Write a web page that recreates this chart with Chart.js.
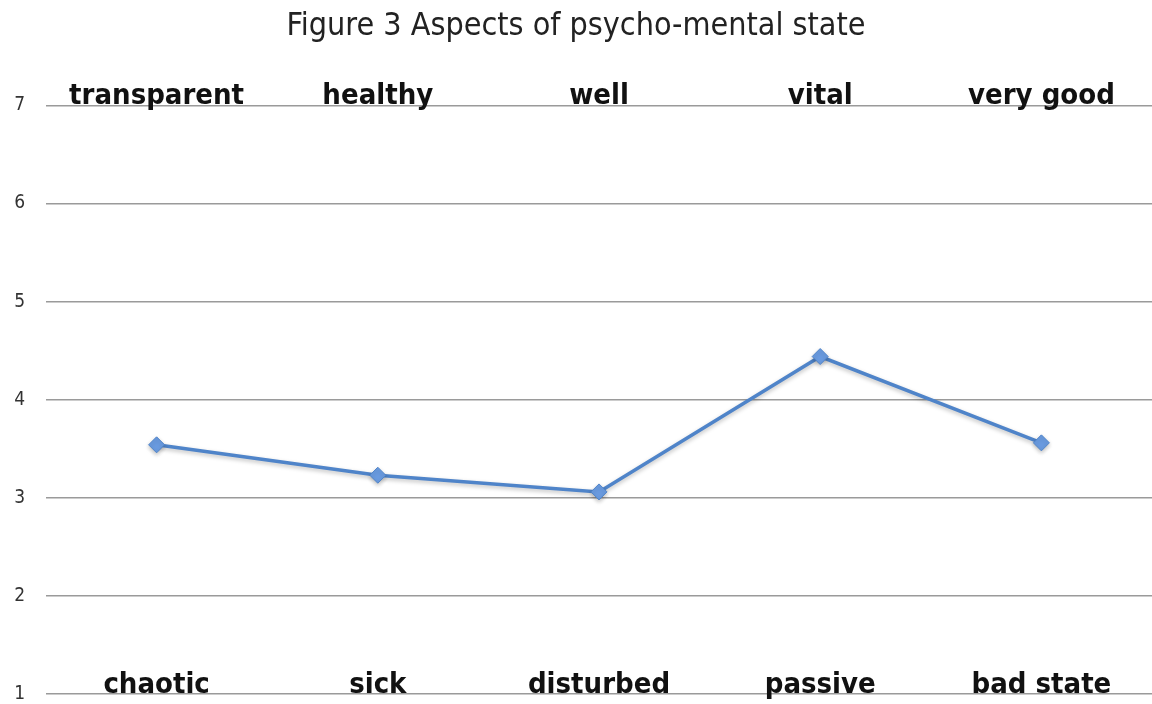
<!DOCTYPE html>
<html>
<head>
<meta charset="utf-8">
<script src="https://cdn.jsdelivr.net/npm/chart.js@4/dist/chart.umd.min.js"></script>
<style>
  html, body { margin: 0; padding: 0; background: #fff; }
  #wrap { width: 1152px; height: 704px; position: relative; }
</style>
</head>
<body>
<div id="wrap"><canvas id="aspectsChart"></canvas></div>
<script>
const chartTitle = 'Figure 3 Aspects of psycho-mental state';
const positiveLabels = ['transparent', 'healthy', 'well', 'vital', 'very good'];
const negativeLabels = ['chaotic', 'sick', 'disturbed', 'passive', 'bad state'];
const scoreValues = [3.54, 3.23, 3.06, 4.44, 3.56];
const yTicks = [1, 2, 3, 4, 5, 6, 7];

const fontFam = '"DejaVu Sans Condensed", "DejaVu Sans", sans-serif';

// bold pole labels: positive above the top line, negative above the bottom line
const poleLabels = {
    id: 'poleLabels',
    afterDraw(chart) {
        const c = chart.ctx;
        const x = chart.scales.x;
        const y = chart.scales.y;
        c.save();
        c.font = 'bold 29px ' + fontFam;
        c.fillStyle = '#111';
        c.textAlign = 'center';
        c.textBaseline = 'alphabetic';
        positiveLabels.forEach((t, i) => {
            c.fillText(t, x.getPixelForValue(i), y.getPixelForValue(7) - 1);
        });
        negativeLabels.forEach((t, i) => {
            c.fillText(t, x.getPixelForValue(i), y.getPixelForValue(1) - 1);
        });
        c.restore();
    }
};

const lineShadow = {
    id: 'lineShadow',
    beforeDatasetsDraw(chart) {
        const c = chart.ctx;
        c.save();
        c.shadowColor = 'rgba(0,0,0,0.25)';
        c.shadowBlur = 4;
        c.shadowOffsetY = 2;
    },
    afterDatasetsDraw(chart) {
        chart.ctx.restore();
    }
};

new Chart(document.getElementById('aspectsChart'), {
    type: 'line',
    data: {
        labels: positiveLabels,
        datasets: [{
            data: scoreValues,
            borderColor: '#4f84c9',
            backgroundColor: '#5b90d8',
            borderWidth: 3.5,
            tension: 0,
            pointStyle: 'rectRot',
            pointRadius: 8,
            pointBorderColor: '#4f84c9',
            pointBackgroundColor: '#6a9be0',
            pointBorderWidth: 1
        }]
    },
    options: {
        responsive: true,
        maintainAspectRatio: false,
        animation: false,
        layout: {
            autoPadding: false,
            padding: { top: 0, bottom: 10, left: 0, right: 0 }
        },
        plugins: {
            legend: { display: false },
            tooltip: { enabled: false },
            title: {
                display: true,
                text: chartTitle,
                color: '#222',
                font: { family: fontFam, size: 32, weight: 'normal' },
                padding: { top: 7, bottom: 60 }
            }
        },
        scales: {
            x: {
                display: false,
                offset: true
            },
            y: {
                min: 1,
                max: 7,
                afterBuildTicks: (axis) => { axis.ticks = yTicks.map(v => ({ value: v })); },
                afterFit: (axis) => {
                    axis.width = 46;
                    axis.paddingTop = 0;
                    axis.paddingBottom = 0;
                },
                grid: { color: '#9a9a9a', lineWidth: 1.5, drawTicks: false },
                border: { display: false },
                ticks: {
                    color: '#333',
                    padding: 21,
                    font: { family: fontFam, size: 19 }
                }
            }
        }
    },
    plugins: [lineShadow, poleLabels]
});
</script>
</body>
</html>
